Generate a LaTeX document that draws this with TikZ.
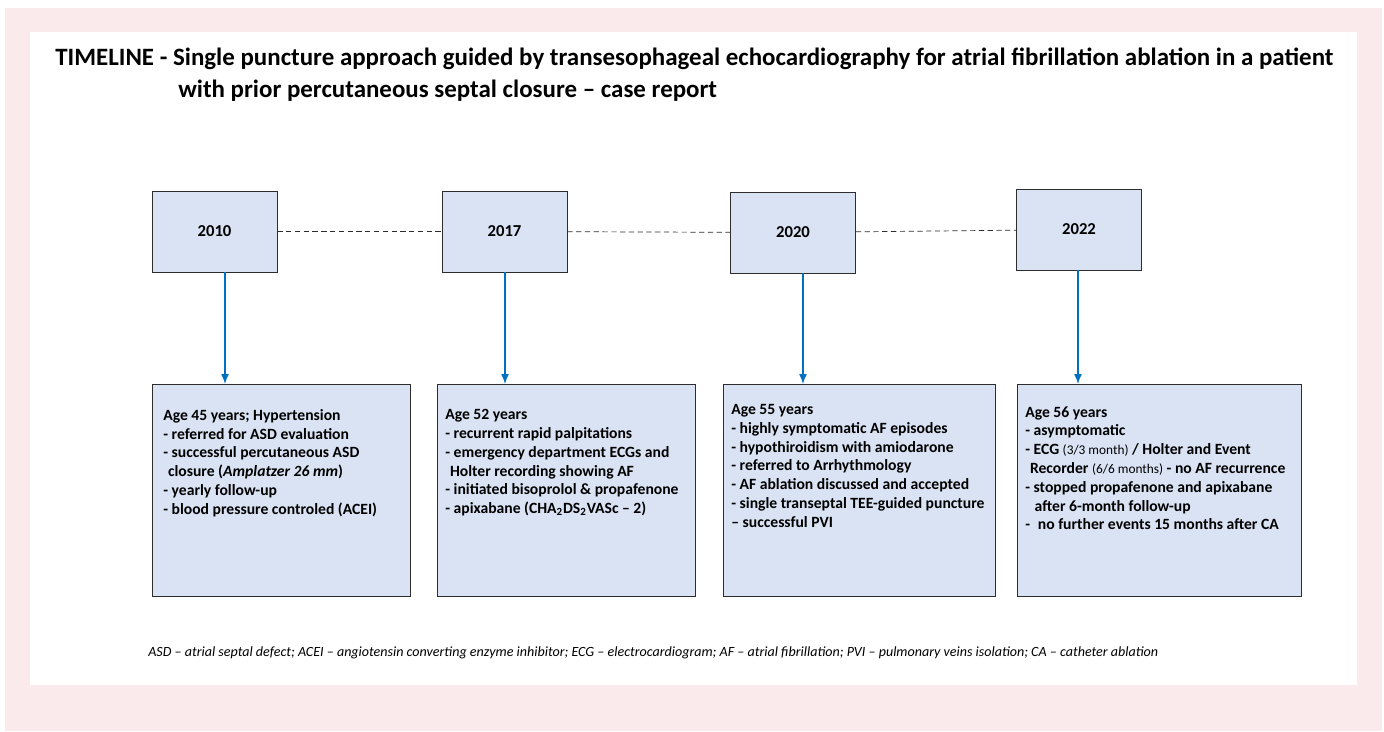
\documentclass[tikz,border=0pt]{standalone}
\usepackage{fontspec}
\setmainfont{Carlito}
\usetikzlibrary{arrows.meta, positioning, calc}
\definecolor{palepink}{RGB}{251,234,235}
\definecolor{boxblue}{RGB}{218,227,243}
\definecolor{arrowblue}{RGB}{0,112,192}
\definecolor{boxline}{RGB}{45,45,45}

\begin{document}
\begin{tikzpicture}[
  x=0.02cm, y=-0.02cm,
  yearbox/.style={
    draw=boxline,
    fill=boxblue,
    minimum width=2.5cm,
    minimum height=1.62cm,
    font=\fontsize{9.5}{11}\selectfont\bfseries
  },
  eventbox/.style={draw=boxline, fill=boxblue, anchor=north west, minimum height=4.24cm},
  eventtext/.style={anchor=north west, inner sep=0pt, align=left,
    font=\fontsize{8.9}{10.7}\selectfont\bfseries},
  arrow/.style={-{Latex[length=2mm, width=1.6mm]}, thick, arrowblue},
  link/.style={dash pattern=on 3pt off 2pt, boxline, thin}
]
\useasboundingbox (0,0) rectangle (1384,731);
\fill[palepink] (5,8) rectangle (1382,731);
\fill[white] (30,32) rectangle (1357,685);

% title
\node[anchor=north west, inner sep=0pt, align=left,
  font=\fontsize{14.2}{18}\selectfont\bfseries] (title) at (55,48)
  {TIMELINE - Single puncture approach guided by transesophageal echocardiography for atrial fibrillation ablation in a patient\\
  \hspace*{2.46cm}with prior percutaneous septal closure -- case report};

% years
\node[yearbox] (y2010) at (214.5,231.5) {2010};
\node[yearbox] (y2017) at (504.5,231.5) {2017};
\node[yearbox] (y2020) at (793,232.5) {2020};
\node[yearbox] (y2022) at (1079,229.5) {2022};
\draw[link] (y2010) -- (y2017);
\draw[link] (y2017) -- (y2020);
\draw[link] (y2020) -- (y2022);

% event boxes
\node[eventbox, minimum width=5.16cm] (ev2010) at (152,384) {};
\node[eventbox, minimum width=5.16cm] (ev2017) at (437,384) {};
\node[eventbox, minimum width=5.44cm] (ev2020) at (723,384) {};
\node[eventbox, minimum width=5.68cm] (ev2022) at (1017,384) {};

\node[eventtext] (t2010) at (163,409) {Age 45 years; Hypertension\\
  - referred for ASD evaluation\\
  - successful percutaneous ASD\\
  \hspace*{0.3em}closure (\textit{Amplatzer 26 mm})\\
  - yearly follow-up\\
  - blood pressure controled (ACEI)};
\node[eventtext] (t2017) at (445,409) {Age 52 years\\
  - recurrent rapid palpitations\\
  - emergency department ECGs and\\
  \hspace*{0.3em}Holter recording showing AF\\
  - initiated bisoprolol \& propafenone\\
  - apixabane (CHA\textsubscript{2}DS\textsubscript{2}VASc -- 2)};
\node[eventtext] (t2020) at (731,404) {Age 55 years\\
  - highly symptomatic AF episodes\\
  - hypothiroidism with amiodarone\\
  - referred to Arrhythmology\\
  - AF ablation discussed and accepted\\
  - single transeptal TEE-guided puncture\\
  -- successful PVI};
\node[eventtext] (t2022) at (1025,406) {Age 56 years\\
  - asymptomatic\\
  - ECG {\mdseries\fontsize{7.6}{10.7}\selectfont(3/3 month)} / Holter and Event\\
  \hspace*{0.3em}Recorder {\mdseries\fontsize{7.6}{10.7}\selectfont(6/6 months)} - no AF recurrence\\
  - stopped propafenone and apixabane\\
  \hspace*{0.6em}after 6-month follow-up\\
  -\hspace*{0.5em}no further events 15 months after CA};

% arrows
\coordinate (a1) at (225,0);
\coordinate (a2) at (505,0);
\coordinate (a3) at (803,0);
\coordinate (a4) at (1078,0);
\draw[arrow] (y2010.south -| a1) -- (a1 |- ev2010.north);
\draw[arrow] (y2017.south -| a2) -- (a2 |- ev2017.north);
\draw[arrow] (y2020.south -| a3) -- (a3 |- ev2020.north);
\draw[arrow] (y2022.south -| a4) -- (a4 |- ev2022.north);

% abbreviations
\node[anchor=west, inner sep=0pt, font=\fontsize{8}{9.6}\selectfont\itshape] (abbr) at (148,653)
  {ASD -- atrial septal defect; ACEI -- angiotensin converting enzyme inhibitor; ECG -- electrocardiogram; AF -- atrial fibrillation; PVI -- pulmonary veins isolation; CA -- catheter ablation};
\end{tikzpicture}
\end{document}
